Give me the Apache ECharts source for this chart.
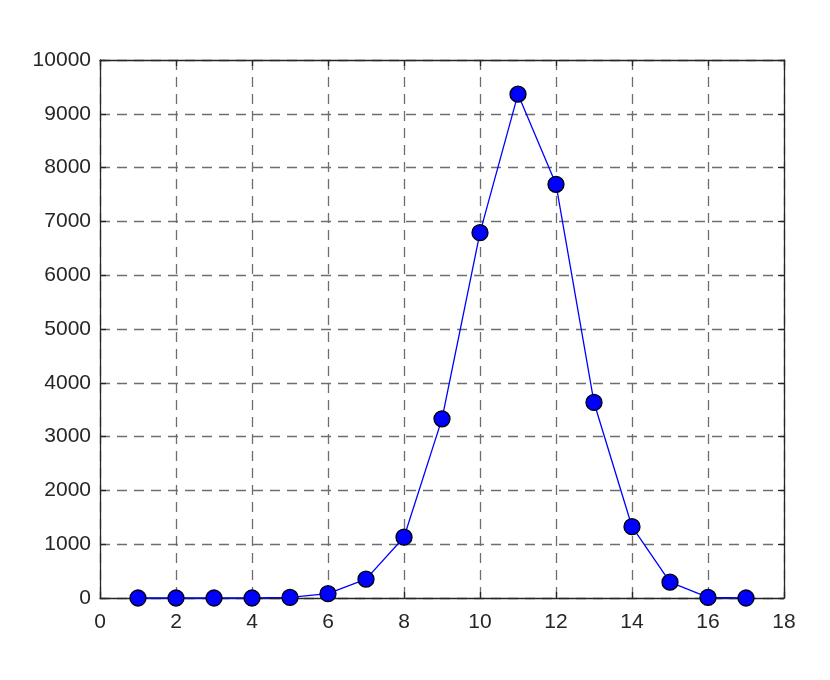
<!DOCTYPE html>
<html><head><meta charset="utf-8">
<script src="https://cdn.jsdelivr.net/npm/echarts@6/dist/echarts.min.js"></script>
<style>html,body{margin:0;padding:0;background:#fff}#c{width:830px;height:680px}</style>
</head><body><div id="c"></div>
<script>
const xValues = [1,2,3,4,5,6,7,8,9,10,11,12,13,14,15,16,17];
const yValues = [0,0,0,0,10,80,350,1130,3330,6790,9365,7690,3635,1325,295,10,0];
const xTicks = [0,2,4,6,8,10,12,14,16,18];
const yTicks = [0,1000,2000,3000,4000,5000,6000,7000,8000,9000,10000];

const font = 'Liberation Sans, Arial, sans-serif';
const gridLine = {show:true, lineStyle:{color:'#6e6e6e', width:1.3, type:[10,7]}};
const axisLine = {show:true, onZero:false, lineStyle:{color:'#262626', width:1.3}};
const tick = {show:true, inside:true, length:6, lineStyle:{color:'#262626', width:1.3}};

const chart = echarts.init(document.getElementById('c'), null, {renderer:'canvas'});
chart.setOption({
  backgroundColor:'#fff',
  animation:false,
  grid:{left:100, right:46, top:60, bottom:82},
  xAxis:[
    {type:'value', min:xTicks[0], max:xTicks[xTicks.length-1], interval:2, position:'bottom',
     axisLine:axisLine, axisTick:tick, splitLine:gridLine,
     axisLabel:{color:'#262626', fontSize:21, fontFamily:font, margin:14, formatter:v=>String(v)}},
    {type:'value', min:xTicks[0], max:xTicks[xTicks.length-1], interval:2, position:'top',
     axisLine:axisLine, axisTick:tick, splitLine:{show:false}, axisLabel:{show:false}}
  ],
  yAxis:[
    {type:'value', min:yTicks[0], max:yTicks[yTicks.length-1], interval:1000, position:'left',
     axisLine:axisLine, axisTick:tick, splitLine:gridLine,
     axisLabel:{color:'#262626', fontSize:21, fontFamily:font, margin:9, formatter:v=>String(v)}},
    {type:'value', min:yTicks[0], max:yTicks[yTicks.length-1], interval:1000, position:'right',
     axisLine:axisLine, axisTick:tick, splitLine:{show:false}, axisLabel:{show:false}}
  ],
  series:[{
    type:'line',
    data:xValues.map((x,i)=>[x,yValues[i]]),
    symbol:'circle', symbolSize:16,
    lineStyle:{color:'#0000ff', width:1.3},
    itemStyle:{color:'#0000ff', borderColor:'#000', borderWidth:1.3},
    z:5
  }]
});
</script></body></html>
